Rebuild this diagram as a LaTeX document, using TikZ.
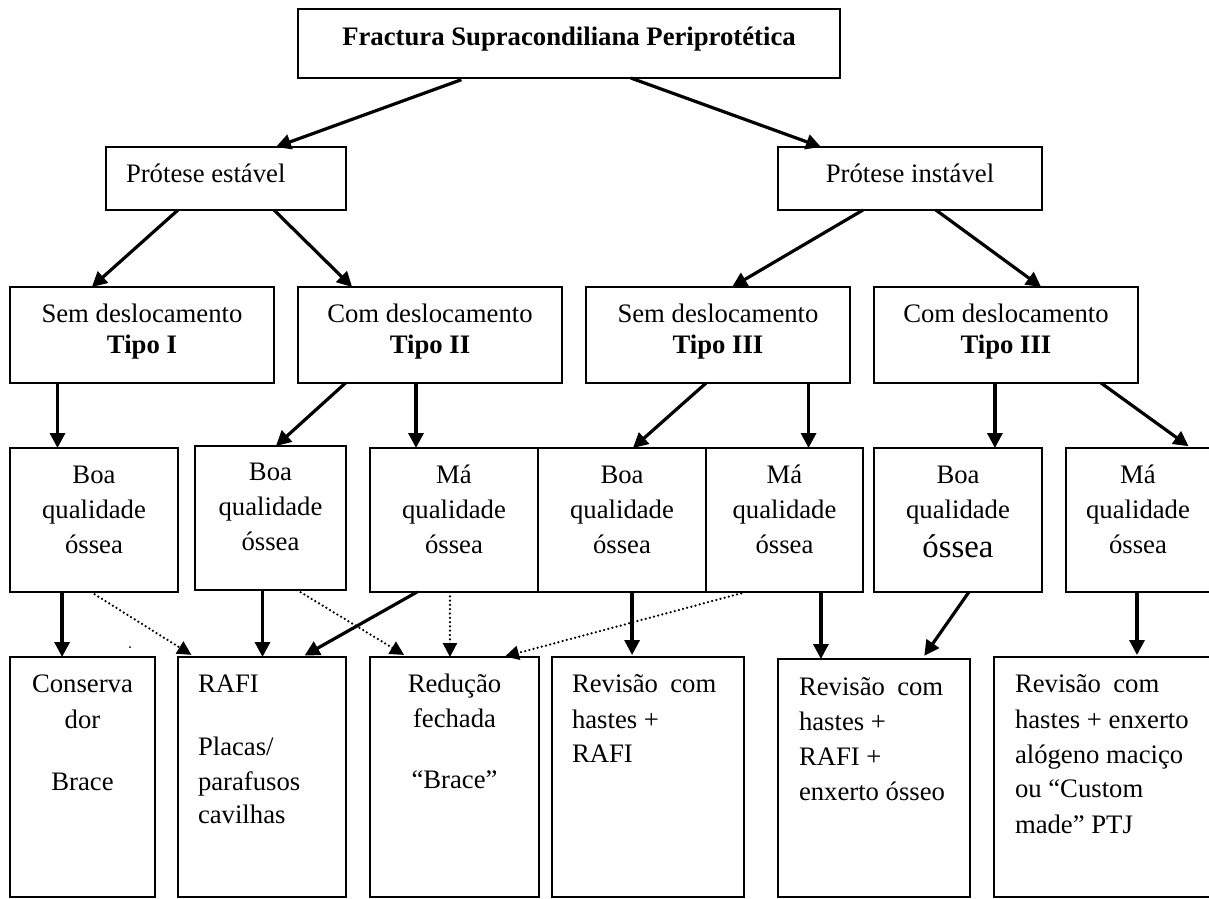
\documentclass[tikz,border=0pt]{standalone}
\usepackage{fontspec}
\setmainfont{Liberation Serif}
\usetikzlibrary{arrows.meta,calc}
\newcommand{\bxt}[3]{\parbox[t][#1][t]{#2}{\lineskiplimit=-1000pt\relax #3}}
\tikzset{
  box/.style={draw, line width=1.5pt, inner sep=0pt, outer sep=0pt, anchor=north west,
    font=\fontsize{26.7}{35}\selectfont},
  arr/.style={line width=3.2pt, -{Triangle[length=15pt,width=15pt]}},
  dotarr/.style={line width=2.5pt, line cap=round, dash pattern=on 0pt off 4.3pt,
    -{Triangle[length=14pt,width=14pt]}},
}
\begin{document}
\begin{tikzpicture}[x=1pt,y=-1pt]
\useasboundingbox (0,0) rectangle (1209,898);
\fill[white] (0,0) rectangle (1209,898);
\clip (0,0) rectangle (1209,898);

% level 0
\node[box] (T) at (298,9) {\bxt{69pt}{542pt}{\centering\bfseries\rule{0pt}{36pt}Fractura Supracondiliana Periprotética\par}};
% level 1
\node[box] (PE) at (106,147) {\bxt{63pt}{240pt}{\raggedright\leftskip=20pt\rule{0pt}{35pt}Prótese estável\par}};
\node[box] (PI) at (778,147) {\bxt{63pt}{264pt}{\centering\rule{0pt}{35pt}Prótese instável\par}};
% level 2
\node[box] (R2a) at (10,287) {\bxt{96pt}{264pt}{\centering\fontsize{26.7}{31}\selectfont\rule{0pt}{35pt}Sem deslocamento\\\textbf{Tipo I}\par}};
\node[box] (R2b) at (298,287) {\bxt{96pt}{264pt}{\centering\fontsize{26.7}{31}\selectfont\rule{0pt}{35pt}Com deslocamento\\\textbf{Tipo II}\par}};
\node[box] (R2c) at (586,287) {\bxt{96pt}{264pt}{\centering\fontsize{26.7}{31}\selectfont\rule{0pt}{35pt}Sem deslocamento\\\textbf{Tipo III}\par}};
\node[box] (R2d) at (874,287) {\bxt{96pt}{264pt}{\centering\fontsize{26.7}{31}\selectfont\rule{0pt}{35pt}Com deslocamento\\\textbf{Tipo III}\par}};
% level 3
\node[box] (R3a) at (10,448) {\bxt{144pt}{168pt}{\centering\rule{0pt}{35pt}Boa\\qualidade\\óssea\par}};
\node[box] (R3b) at (195,446) {\bxt{144pt}{151pt}{\centering\rule{0pt}{34pt}Boa\\qualidade\\óssea\par}};
\node[box] (R3c) at (370,448) {\bxt{144pt}{168pt}{\centering\rule{0pt}{35pt}Má\\qualidade\\óssea\par}};
\node[box] (R3d) at (538,448) {\bxt{144pt}{168pt}{\centering\rule{0pt}{35pt}Boa\\qualidade\\óssea\par}};
\node[box] (R3e) at (706,448) {\bxt{144pt}{157pt}{\centering\rule{0pt}{35pt}Má\\qualidade\\óssea\par}};
\node[box] (R3f) at (874,448) {\bxt{144pt}{168pt}{\centering\rule{0pt}{35pt}Boa\\qualidade\\[4pt]{\fontsize{32.8}{39}\selectfont óssea}\par}};
\node[box] (R3g) at (1066,448) {\bxt{144pt}{144pt}{\centering\rule{0pt}{35pt}Má\\qualidade\\óssea\par}};
% level 4
\node[box] (B1) at (10,657) {\bxt{240pt}{145pt}{\centering\rule{0pt}{35pt}Conserva\\[1pt]dor\\[27pt]Brace\par}};
\node[box] (B2) at (178,657) {\bxt{240pt}{168pt}{\raggedright\leftskip=20pt\rule{0pt}{35pt}RAFI\\[28pt]Placas/\\parafusos\\[-2pt]cavilhas\par}};
\node[box] (B3) at (370,657) {\bxt{240pt}{169pt}{\centering\rule{0pt}{35pt}Redução\\fechada\\[26pt]“Brace”\par}};
\node[box] (B4) at (552,657) {\bxt{240pt}{192pt}{\raggedright\leftskip=20pt\rule{0pt}{35pt}Revisão\hspace{0.46em}com\\[1pt]hastes +\\[-1pt]RAFI\par}};
\node[box] (B5) at (778,659) {\bxt{238pt}{192pt}{\raggedright\leftskip=21pt\rule{0pt}{36pt}Revisão\hspace{0.46em}com\\hastes +\\RAFI +\\enxerto ósseo\par}};
\node[box] (B6) at (994,657) {\bxt{240pt}{230pt}{\raggedright\leftskip=21pt\rule{0pt}{35pt}Revisão\hspace{0.46em}com\\[1pt]hastes + enxerto\\alógeno maciço\\[-1pt]ou “Custom\\[1pt]made” PTJ\par}};

% connectors level 0 -> 1
\draw[arr, shorten <=5pt] ($(T.south west)!0.31!(T.south east)$) -- ($(PE.north west)!0.708!(PE.north east)$);
\draw[arr] ($(T.south west)!0.614!(T.south east)$) -- ($(PI.north west)!0.163!(PI.north east)$);
% level 1 -> 2
\draw[arr] ($(PE.south west)!0.30!(PE.south east)$) -- ($(R2a.north west)!0.31!(R2a.north east)$);
\draw[arr] ($(PE.south west)!0.70!(PE.south east)$) -- ($(R2b.north west)!0.205!(R2b.north east)$);
\draw[arr] ($(PI.south west)!0.322!(PI.south east)$) -- ($(R2c.north west)!0.553!(R2c.north east)$);
\draw[arr] ($(PI.south west)!0.598!(PI.south east)$) -- ($(R2d.north west)!0.633!(R2d.north east)$);
% level 2 -> 3
\coordinate (v1) at ($(R2a.south west)!0.18!(R2a.south east)$);
\draw[arr] (v1) -- (v1 |- R3a.north);
\draw[arr] ($(R2b.south west)!0.18!(R2b.south east)$) -- ($(R3b.north west)!0.536!(R3b.north east)$);
\coordinate (v2) at ($(R2b.south west)!0.447!(R2b.south east)$);
\draw[arr] (v2) -- (v2 |- R3c.north);
\draw[arr] ($(R2c.south west)!0.455!(R2c.south east)$) -- ($(R3d.north west)!0.565!(R3d.north east)$);
\coordinate (v3) at ($(R2c.south west)!0.843!(R2c.south east)$);
\draw[arr] (v3) -- (v3 |- R3e.north);
\coordinate (v4) at ($(R2d.south west)!0.458!(R2d.south east)$);
\draw[arr] (v4) -- (v4 |- R3f.north);
\draw[arr, shorten >=3pt] ($(R2d.south west)!0.86!(R2d.south east)$) -- ($(R3g.north west)!0.868!(R3g.north east)$);
% level 3 -> 4
\coordinate (v5) at ($(R3a.south west)!0.31!(R3a.south east)$);
\draw[arr] (v5) -- (v5 |- B1.north);
\coordinate (v6) at ($(R3b.south west)!0.447!(R3b.south east)$);
\draw[arr] (v6) -- (v6 |- B2.north);
\draw[arr, shorten >=3pt] ($(R3c.south west)!0.28!(R3c.south east)$) -- ($(B2.north west)!0.738!(B2.north east)$);
\coordinate (v7) at ($(R3d.south west)!0.56!(R3d.south east)$);
\draw[arr, shorten >=2pt] (v7) -- (v7 |- B4.north);
\coordinate (v8) at ($(R3e.south west)!0.732!(R3e.south east)$);
\draw[arr] (v8) -- (v8 |- B5.north);
\draw[arr, shorten >=4pt] ($(R3f.south west)!0.565!(R3f.south east)$) -- ($(B5.north west)!0.75!(B5.north east)$);
\coordinate (v9) at ($(R3g.south west)!0.493!(R3g.south east)$);
\draw[arr, shorten >=2pt] (v9) -- (v9 |- B6.north);
% dotted connectors
\draw[dotarr, shorten >=4pt] ($(R3a.south west)!0.482!(R3a.south east)$) -- ($(B2.north west)!0.10!(B2.north east)$);
\draw[dotarr, shorten >=4pt] ($(R3b.south west)!0.675!(R3b.south east)$) -- ($(B3.north west)!0.222!(B3.north east)$);
\coordinate (v10) at ($(R3c.south west)!0.476!(R3c.south east)$);
\draw[dotarr] (v10) -- (v10 |- B3.north);
\draw[dotarr, shorten <=5pt, shorten >=2pt] ($(R3e.south west)!0.255!(R3e.south east)$) -- ($(B3.north west)!0.787!(B3.north east)$);
% stray dot
\fill (130,647) circle (1pt);
\end{tikzpicture}
\end{document}
